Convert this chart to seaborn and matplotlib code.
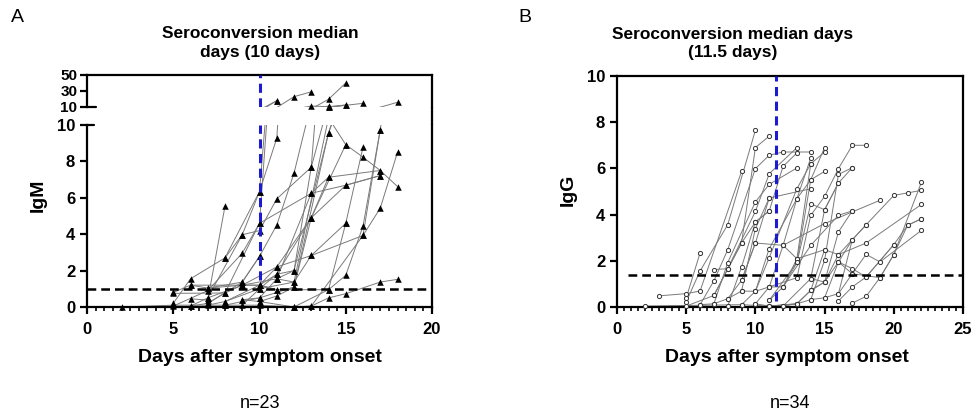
import pandas as pd
import seaborn as sns
import matplotlib.pyplot as plt
from matplotlib.lines import Line2D
from matplotlib.ticker import MultipleLocator

# IgM, one list per patient (days after onset / value)
igm_days = [
    [2, 5, 8, 10, 12, 13, 14, 15, 17, 18],
    [5, 6, 10, 11, 14, 15, 16, 17],
    [5, 6, 8, 10, 11, 12, 13],
    [6, 7, 8],
    [5, 7, 9, 10, 11],
    [6, 7, 9, 10, 11, 13, 14, 15],
    [7, 9, 10, 11, 12, 13, 14, 15],
    [7, 8, 9, 11, 13, 16, 17, 18],
    [7, 8, 10, 11, 13, 15, 17],
    [8, 10, 11, 13, 14, 17],
    [9, 10, 11, 12, 14, 16],
    [9, 10, 12, 14, 15, 16, 17, 18],
    [10, 12, 14, 15, 16],
    [12, 13, 16, 17, 18],
    [5, 8, 10, 13, 15, 17],
    [10, 11, 13, 15],
    [7, 9, 11, 12, 13, 15],
    [8, 10, 11, 12, 14, 15],
    [6, 7, 9, 10, 11],
    [9, 10, 12, 13, 14],
    [11, 12, 13, 14],
    [8, 9, 10, 11],
    [6, 7, 9, 10],
]
igm_values = [
    [0.0, 0.1, 0.1, 0.1, 0.0, 0.05, 0.5, 0.73, 1.37, 1.52],
    [0.8, 1.2, 1.2, 0.95, 0.95, 1.74, 4.44, 9.74],
    [0.2, 1.55, 2.7, 6.34, 9.27, 22.9, 29.0],
    [0.45, 0.38, 5.54],
    [0.05, 0.9, 2.96, 4.6, 17.9],
    [0.05, 0.5, 3.97, 4.2, 5.94, 7.68, 19.6, 40.0],
    [1.04, 1.37, 2.78, 4.5, 7.35, 11.2, 10.4, 12.5],
    [0.2, 0.77, 1.2, 2.2, 2.83, 3.93, 5.43, 8.5],
    [0.1, 0.3, 1.0, 1.8, 4.9, 6.69, 7.22],
    [0.1, 0.5, 1.55, 6.25, 7.13, 7.5],
    [0.4, 0.3, 0.6, 1.1, 9.56, 14.6],
    [0.1, 1.0, 1.37, 10.4, 8.92, 8.23, 7.5, 6.62],
    [0.3, 0.0, 0.95, 4.6, 8.78],
    [0.0, 0.05, 3.93, 9.74, 15.9],
    [0.75, 0.77, 4.6, 6.25, 6.69, 7.22],
    [1.2, 2.2, 4.9, 8.92],
    [0.5, 1.2, 1.55, 1.37, 2.83, 4.6],
    [0.3, 1.2, 1.8, 2.0, 9.56, 12.5],
    [1.2, 1.04, 1.2, 1.2, 0.95],
    [0.4, 0.5, 1.1, 4.9, 7.13],
    [1.55, 2.0, 7.68, 11.2],
    [2.7, 3.97, 6.34, 17.9],
    [0.05, 0.2, 1.37, 2.78],
]

# IgG, one list per patient
igg_days = [
    [2, 9, 11, 13],
    [3, 5, 6, 9],
    [5, 6],
    [5, 6, 8, 10],
    [5, 7, 9, 10, 11],
    [6, 7, 8, 10, 11, 12, 14],
    [7, 8, 10, 11, 13],
    [7, 8, 10, 11, 13],
    [8, 9, 10, 11, 14],
    [8, 9, 10, 11, 12, 13],
    [9, 10, 11, 13, 14],
    [9, 10, 12, 15, 19],
    [10, 11, 12, 13, 14, 15],
    [11, 13, 14, 15],
    [11, 13, 14, 15, 16, 17],
    [11, 13, 14, 15, 16, 17, 18],
    [12, 14, 15, 16],
    [14, 15, 16, 17],
    [14, 15, 16, 17, 18, 20],
    [15, 16, 17, 18, 20, 21, 22],
    [17, 18, 19, 20, 22],
    [16, 17, 18, 20, 21, 22],
    [16, 17, 18, 19, 22],
    [11, 12, 14, 16, 17],
    [12, 13, 15, 16, 18, 22],
    [6, 7, 8, 9, 10, 11],
    [9, 10, 11, 13, 14],
    [13, 14, 15, 16, 17],
    [12, 13, 14, 15, 16, 17],
    [10, 11, 12, 13, 14, 15],
    [14, 15, 16, 17, 18],
    [16, 17, 19, 20, 21, 22],
    [7, 8, 9, 10, 11],
    [10, 11, 12, 13, 14, 15],
]
igg_values = [
    [0.04, 0.1, 0.04, 0.14],
    [0.48, 0.58, 0.69, 5.87],
    [0.39, 2.34],
    [0.22, 1.56, 3.56, 7.65],
    [0.04, 0.5, 2.77, 6.9, 7.4],
    [0.1, 1.13, 2.48, 5.99, 6.57, 6.71, 6.71],
    [0.14, 1.92, 4.55, 5.31, 6.02],
    [1.62, 1.66, 4.14, 5.77, 6.9],
    [0.36, 0.69, 3.39, 4.72, 5.12],
    [0.04, 1.73, 3.68, 4.16, 6.09, 6.67],
    [0.1, 0.68, 2.53, 4.69, 6.45],
    [1.15, 2.77, 2.67, 3.61, 4.62],
    [0.14, 0.87, 0.87, 2.09, 6.2, 6.71],
    [0.29, 1.93, 5.51, 6.9],
    [0.04, 0.14, 0.32, 2.02, 5.74, 6.03],
    [0.87, 1.27, 3.97, 4.79, 5.99, 7.0, 7.0],
    [0.04, 1.23, 4.21, 5.37],
    [0.72, 1.08, 3.25, 4.16],
    [0.32, 0.4, 1.95, 1.66, 1.3, 2.7],
    [0.4, 0.58, 2.91, 3.56, 4.83, 4.94, 5.05],
    [0.17, 0.46, 1.27, 2.27, 5.41],
    [0.26, 0.87, 1.3, 2.7, 3.54, 3.82],
    [0.58, 1.44, 2.28, 1.95, 3.32],
    [0.29, 0.87, 2.67, 3.97, 4.16],
    [2.67, 2.09, 2.48, 2.27, 2.77, 4.44],
    [0.1, 0.14, 0.36, 1.15, 2.77, 4.72],
    [0.69, 0.68, 2.14, 5.12, 6.2],
    [0.14, 0.72, 1.08, 2.27, 2.91],
    [0.87, 1.93, 4.47, 4.21, 5.37, 6.03],
    [0.68, 0.87, 2.67, 4.69, 5.51, 5.87],
    [1.23, 1.08, 1.95, 2.91, 3.56],
    [1.95, 1.44, 1.27, 2.27, 3.54, 3.82],
    [0.5, 1.66, 2.77, 3.68, 4.16],
    [0.14, 0.04, 0.04, 0.14, 0.72, 2.48],
]

igm_cutoff = 1.0
igm_median = 10
igg_cutoff = 1.4
igg_median = 11.5


def to_long(days, values):
    rows = []
    for i, (d, v) in enumerate(zip(days, values)):
        for x, y in zip(d, v):
            rows.append({"sid": i, "day": x, "value": y})
    return pd.DataFrame(rows)


dfm = to_long(igm_days, igm_values)
dfg = to_long(igg_days, igg_values)

sns.set_style("ticks")
plt.rcParams["font.family"] = ["Liberation Sans", "DejaVu Sans"]
plt.rcParams["font.weight"] = "bold"
plt.rcParams["text.color"] = "black"

W, H = 973, 416
fig = plt.figure(figsize=(W / 100, H / 100), dpi=100)


def fx(px):
    return px / W


def fy(py):
    return 1 - py / H


line_kw = dict(units="sid", estimator=None, color="#7a7a7a", linewidth=0.7, legend=False)
blue = "#1c1ccf"
spine_w = 1.6
tick_fs = 12


def style_axis(ax):
    for s in ax.spines.values():
        s.set_linewidth(spine_w)
        s.set_color("black")
    ax.tick_params(which="major", length=5, width=spine_w, labelsize=tick_fs, color="black",
                   labelcolor="black")
    ax.tick_params(axis="x", which="major", pad=6)
    ax.tick_params(which="minor", length=3, width=1.2, color="black")
    ax.set_xlabel("")
    ax.set_ylabel("")


# ---- Panel A: broken y axis ----
ax_lo = fig.add_axes([fx(87), fy(307), fx(432) - fx(87), fy(125) - fy(307)])
ax_up = fig.add_axes([fx(87), fy(107), fx(432) - fx(87), fy(75) - fy(107)], sharex=ax_lo)

for ax in (ax_lo, ax_up):
    sns.lineplot(data=dfm, x="day", y="value", ax=ax, **line_kw)

sns.scatterplot(data=dfm[dfm["value"] <= 10], x="day", y="value", ax=ax_lo, marker="^",
                color="black", s=22, linewidth=0, legend=False, clip_on=False, zorder=4)
sns.scatterplot(data=dfm[dfm["value"] > 10], x="day", y="value", ax=ax_up, marker="^",
                color="black", s=22, linewidth=0, legend=False, clip_on=False, zorder=4)

ax_lo.axhline(igm_cutoff, color="black", ls=(0, (3.5, 2)), lw=1.8, zorder=5)
ax_lo.plot([igm_median, igm_median], [1.5, 10], color=blue, ls=(0, (3, 1.8)), lw=2.2, zorder=5)
ax_up.axvline(igm_median, color=blue, ls=(0, (3, 1.8)), lw=2.2, zorder=5)

ax_lo.set_xlim(0, 20)
ax_lo.set_ylim(0, 10)
ax_up.set_ylim(10, 50)
ax_lo.xaxis.set_major_locator(MultipleLocator(5))
ax_lo.xaxis.set_minor_locator(MultipleLocator(0.5))
ax_lo.set_yticks([0, 2, 4, 6, 8, 10])
ax_up.set_yticks([10, 30, 50])
style_axis(ax_lo)
style_axis(ax_up)
ax_lo.spines["top"].set_visible(False)
ax_up.spines["bottom"].set_visible(False)
ax_up.tick_params(axis="x", which="both", bottom=False, labelbottom=False)
ax_up.tick_params(axis="y", labelsize=11, pad=2)

# break caps and right edge through the gap
ax_up.plot([0, 0.025], [0, 0], transform=ax_up.transAxes, color="black", lw=spine_w, clip_on=False)
ax_lo.plot([0, 0.02], [1, 1], transform=ax_lo.transAxes, color="black", lw=spine_w, clip_on=False)
fig.add_artist(Line2D([fx(432), fx(432)], [fy(125), fy(107)], color="black", lw=spine_w))

# ---- Panel B ----
ax_b = fig.add_axes([fx(617), fy(307), fx(963) - fx(617), fy(76) - fy(307)])
sns.lineplot(data=dfg, x="day", y="value", ax=ax_b, **line_kw)
sns.scatterplot(data=dfg, x="day", y="value", ax=ax_b, marker="o", s=9,
                facecolor="white", edgecolor="#333333", linewidth=0.7,
                legend=False, clip_on=False, zorder=4)
ax_b.plot([0.8, 25], [igg_cutoff, igg_cutoff], color="black", ls=(0, (3.5, 2)), lw=1.8, zorder=5)
ax_b.plot([igg_median, igg_median], [0.25, 10], color=blue, ls=(0, (3, 1.8)), lw=2.2, zorder=5)
ax_b.set_xlim(0, 25)
ax_b.set_ylim(0, 10)
ax_b.xaxis.set_major_locator(MultipleLocator(5))
ax_b.xaxis.set_minor_locator(MultipleLocator(0.5))
ax_b.set_yticks([0, 2, 4, 6, 8, 10])
style_axis(ax_b)

# ---- texts ----
fig.text(fx(11), fy(17), "A", fontsize=14, fontweight="normal", ha="left", va="center")
fig.text(fx(518), fy(17), "B", fontsize=14, fontweight="normal", ha="left", va="center")
fig.text(fx(260), fy(43), "Seroconversion median\ndays (10 days)", fontsize=12.5,
         ha="center", va="center", linespacing=1.25)
fig.text(fx(733), fy(43), "Seroconversion median days\n(11.5 days)", fontsize=12.5,
         ha="center", va="center", linespacing=1.25)
fig.text(fx(38), fy(195), "IgM", fontsize=14, rotation=90, ha="center", va="center")
fig.text(fx(568), fy(190), "IgG", fontsize=14, rotation=90, ha="center", va="center")
fig.text(fx(260), fy(357), "Days after symptom onset", fontsize=14, ha="center", va="center")
fig.text(fx(787), fy(357), "Days after symptom onset", fontsize=14, ha="center", va="center")
fig.text(fx(260), fy(404), "n=23", fontsize=13, fontweight="normal", ha="center", va="center")
fig.text(fx(790), fy(404), "n=34", fontsize=13, fontweight="normal", ha="center", va="center")

fig.savefig("out.png", dpi=100)
